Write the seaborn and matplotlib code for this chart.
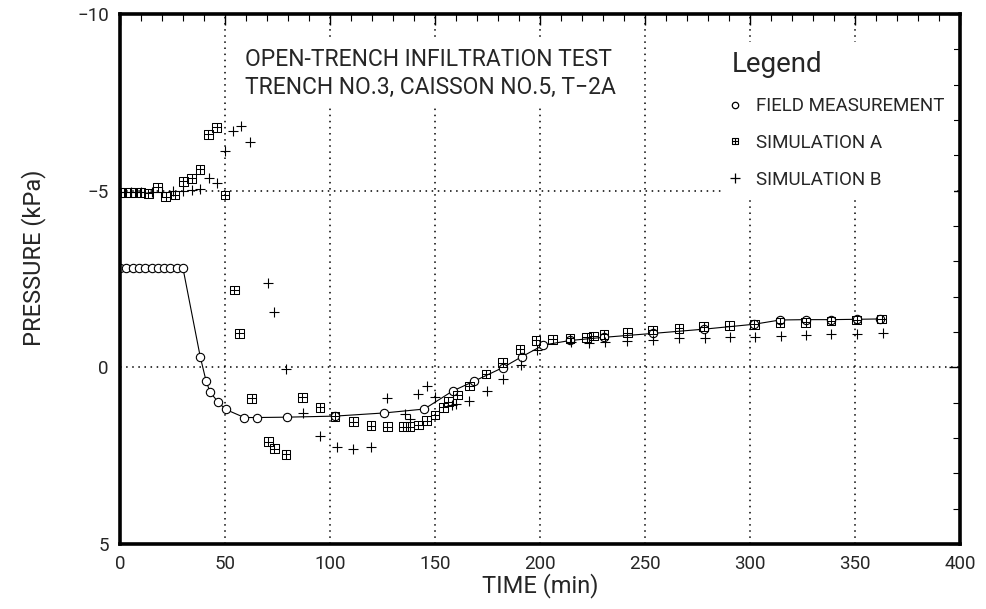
import numpy as np
import pandas as pd
import matplotlib
matplotlib.use("Agg")
import matplotlib.pyplot as plt
import seaborn as sns
from matplotlib.path import Path
from matplotlib.markers import MarkerStyle
from matplotlib.lines import Line2D
from matplotlib.ticker import MultipleLocator

# ---------------- data ----------------
t_field = [0, 3, 6, 9, 12, 15, 18, 21, 24, 27, 30,
           38.2, 41, 42.9, 46.8, 50.3, 59.2, 65.2, 79.4, 102.4, 125.9,
           144.9, 158.4, 168.7, 182.2, 191.3, 201.6, 214.3, 230.5, 253.7,
           278, 302, 314.3, 326.5, 338.6, 350.8, 362]
p_field = [-2.8, -2.8, -2.8, -2.8, -2.8, -2.8, -2.8, -2.8, -2.8, -2.8, -2.8,
           -0.3, 0.39, 0.7, 0.99, 1.19, 1.42, 1.42, 1.41, 1.38, 1.29,
           1.18, 0.67, 0.39, 0.01, -0.3, -0.63, -0.76, -0.85, -0.96,
           -1.08, -1.22, -1.34, -1.35, -1.35, -1.36, -1.37]

t_sim_a = [0, 2.5, 5, 7.5, 10, 13.5, 17.9, 21.7, 26.2, 30.2, 34.1, 38.1, 42.1, 46, 50,
           54.4, 56.8, 62.7, 70.6, 73.5, 79, 86.8, 95.2, 102.4, 111.1, 119.5,
           127.3, 134.9, 138.1, 142, 146, 150, 154, 156.3, 160.6, 166.3, 174.3,
           182.2, 190.5, 198.1, 206, 214.3, 222.2, 225.4, 230.5, 241.6, 253.7,
           266.2, 278, 290.2, 302, 314.3, 326.5, 338.6, 350.8, 362.7]
p_sim_a = [-4.95, -4.95, -4.95, -4.95, -4.95, -4.93, -5.1, -4.83, -4.88, -5.26, -5.35, -5.61, -6.6, -6.79, -4.88,
           -2.19, -0.96, 0.88, 2.1, 2.3, 2.46, 0.85, 1.13, 1.38, 1.54, 1.65,
           1.68, 1.68, 1.68, 1.63, 1.51, 1.35, 1.13, 0.97, 0.78, 0.53, 0.19,
           -0.13, -0.51, -0.77, -0.79, -0.82, -0.85, -0.89, -0.94, -0.98, -1.06,
           -1.1, -1.15, -1.18, -1.22, -1.26, -1.27, -1.31, -1.34, -1.37]

t_sim_b = [0, 5, 10, 15, 20, 25, 30, 34.1, 38, 42.4, 46, 50, 54, 57.6, 61.9,
           70.6, 73.3, 79, 87.3, 95.2, 103.2, 111.1, 119.4, 127.3, 135.7, 138,
           142, 146, 150, 158, 160, 166.3, 174.6, 182.5, 190.8, 198.4,
           215, 223.3, 231, 241.6, 253.7, 266.2, 278.7, 290.5, 302.4, 314.7,
           326.9, 338.8, 351, 363.3]
p_sim_b = [-4.95, -4.95, -4.95, -4.95, -4.97, -4.98, -5.0, -5.02, -5.05, -5.35, -5.23, -6.11, -6.7, -6.82, -6.39,
           -2.4, -1.56, 0.06, 1.3, 1.95, 2.25, 2.32, 2.25, 0.88, 1.32, 1.47,
           0.76, 0.53, 0.85, 1.07, 1.04, 0.95, 0.66, 0.34, -0.07, -0.49,
           -0.73, -0.7, -0.73, -0.75, -0.77, -0.82, -0.82, -0.85, -0.87, -0.89,
           -0.91, -0.93, -0.94, -0.96]

x_ticks = [0, 50, 100, 150, 200, 250, 300, 350, 400]
y_ticks = [-10, -5, 0, 5]
legend_labels = ["FIELD MEASUREMENT", "SIMULATION A", "SIMULATION B"]
note_text = "OPEN-TRENCH INFILTRATION TEST\nTRENCH NO.3, CAISSON NO.5, T\u22122A"

df_field = pd.DataFrame({"time": t_field, "pressure": p_field})
df_a = pd.DataFrame({"time": t_sim_a, "pressure": p_sim_a})
df_b = pd.DataFrame({"time": t_sim_b, "pressure": p_sim_b})

# ---------------- style ----------------
sns.set_theme(style="white")
plt.rcParams["font.family"] = ["Roboto", "DejaVu Sans"]
plt.rcParams["axes.unicode_minus"] = True

fig = plt.figure(figsize=(9.87, 6.09), dpi=100)
ax = fig.add_axes([0.1216, 0.1067, 0.851, 0.8703])

# boxed-cross marker
verts = [(-1, -1), (1, -1), (1, 1), (-1, 1), (-1, -1),
         (0, -1), (0, 1), (-1, 0), (1, 0)]
codes = [Path.MOVETO, Path.LINETO, Path.LINETO, Path.LINETO, Path.CLOSEPOLY,
         Path.MOVETO, Path.LINETO, Path.MOVETO, Path.LINETO]
box_plus = MarkerStyle(Path(verts, codes))

sns.lineplot(data=df_field, x="time", y="pressure", sort=False, estimator=None,
             color="black", lw=0.8, marker="o", markersize=6,
             markerfacecolor="white", markeredgecolor="black", markeredgewidth=0.8,
             ax=ax, zorder=3)
sns.scatterplot(data=df_a, x="time", y="pressure", marker=box_plus, s=40,
                facecolor="none", edgecolor="black", linewidth=0.75, ax=ax, zorder=4)
sns.scatterplot(data=df_b, x="time", y="pressure", marker="+", s=50,
                color="black", linewidth=0.8, ax=ax, zorder=4)

ax.set_xlim(0, 400)
ax.set_ylim(5, -10)
ax.set_xticks(x_ticks)
ax.set_yticks(y_ticks)
ax.xaxis.set_minor_locator(MultipleLocator(10))
ax.yaxis.set_minor_locator(MultipleLocator(1))
ax.tick_params(which="both", direction="in", top=True, right=True, color="black")
ax.tick_params(which="major", length=8, width=1, labelsize=13.5, pad=8)
ax.tick_params(which="minor", length=5, width=0.8)
ax.grid(True, which="major", color="black", linestyle=(0, (1, 3)), linewidth=1.1)

for sp in ax.spines.values():
    sp.set_linewidth(2.6)
    sp.set_color("black")
    sp.set_zorder(10)

ax.set_xlabel("TIME (min)", fontsize=17)
ax.set_ylabel("PRESSURE (kPa)", fontsize=17)
ax.xaxis.set_label_coords(0.5, -0.055)
ax.yaxis.set_label_coords(-0.088, 0.54)

ax.text(0.1488, 0.936, note_text, transform=ax.transAxes, fontsize=16.5,
        va="top", ha="left", linespacing=1.3, zorder=5,
        bbox=dict(facecolor="white", edgecolor="none", pad=6))

handles = [
    Line2D([], [], marker="o", ls="none", mfc="none", mec="black", ms=4.6, mew=0.9),
    Line2D([], [], marker=box_plus, ls="none", mfc="none", mec="black", ms=4.6, mew=0.8),
    Line2D([], [], marker="+", ls="none", color="black", ms=6.5, mew=0.9),
]
leg = ax.legend(handles, legend_labels, title="Legend", loc="upper left",
                bbox_to_anchor=(0.706, 0.964), frameon=True, fontsize=13.5,
                title_fontsize=20, labelspacing=1.0, handletextpad=0.93,
                handlelength=0.4, borderpad=0.48, alignment="left",
                fancybox=False)
leg.get_frame().set_facecolor("white")
leg.get_frame().set_edgecolor("none")
leg.get_frame().set_alpha(1)
leg.set_zorder(6)

fig.savefig("out.png", dpi=100)
